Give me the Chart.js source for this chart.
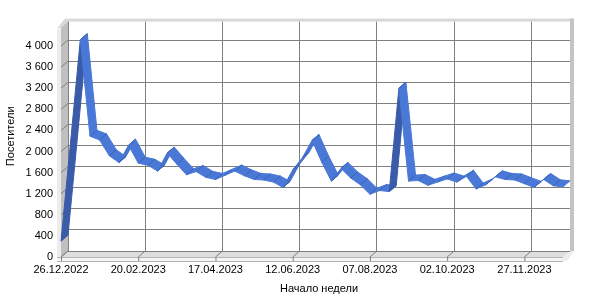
<!DOCTYPE html>
<html>
<head>
<meta charset="utf-8">
<script src="https://cdn.jsdelivr.net/npm/chart.js@4.4.1/dist/chart.umd.min.js"></script>
<style>
  html, body { margin: 0; padding: 0; background: #fff; }
</style>
</head>
<body>
<canvas id="chart" width="600" height="300"></canvas>
<script>
// Week start dates (Monday of each week)
const weeks = [
  '26.12.2022', '02.01.2023', '09.01.2023', '16.01.2023', '23.01.2023', '30.01.2023',
  '06.02.2023', '13.02.2023', '20.02.2023', '27.02.2023', '06.03.2023', '13.03.2023',
  '20.03.2023', '27.03.2023', '03.04.2023', '10.04.2023', '17.04.2023', '24.04.2023',
  '01.05.2023', '08.05.2023', '15.05.2023', '22.05.2023', '29.05.2023', '05.06.2023',
  '12.06.2023', '19.06.2023', '26.06.2023', '03.07.2023', '10.07.2023', '17.07.2023',
  '24.07.2023', '31.07.2023', '07.08.2023', '14.08.2023', '21.08.2023', '28.08.2023',
  '04.09.2023', '11.09.2023', '18.09.2023', '25.09.2023', '02.10.2023', '09.10.2023',
  '16.10.2023', '23.10.2023', '30.10.2023', '06.11.2023', '13.11.2023', '20.11.2023',
  '27.11.2023', '04.12.2023', '11.12.2023', '18.12.2023', '25.12.2023'
];

// Visitors per week
const visitors = [
  300, 2200, 4120, 2290, 2220, 1920, 1790, 2120, 1780, 1740, 1630, 1970,
  1760, 1560, 1620, 1510, 1470, 1550, 1630, 1540, 1470, 1460, 1420, 1320,
  1650, 1880, 2210, 1800, 1440, 1680, 1500, 1370, 1190, 1260, 1240, 3200,
  1440, 1450, 1360, 1420, 1480, 1420, 1530, 1290, 1370, 1520, 1470, 1460,
  1390, 1320, 1470, 1350, 1330
];

const xTicks = [0, 8, 16, 24, 32, 40, 48];
const yTicks = [0, 400, 800, 1200, 1600, 2000, 2400, 2800, 3200, 3600, 4000];
const yMax = 4350;

// depth of the 3D box: back wall is shifted right/up from the front plane
const DX = 7, DY = 6;

const fmt = v => String(v).replace(/\B(?=(\d{3})+(?!\d))/g, ' ');

function poly(ctx, pts, fill, stroke) {
  ctx.beginPath();
  pts.forEach(([x, y], i) => i ? ctx.lineTo(x, y) : ctx.moveTo(x, y));
  ctx.closePath();
  if (fill) { ctx.fillStyle = fill; ctx.fill(); }
  if (stroke) { ctx.strokeStyle = stroke; ctx.lineWidth = 1; ctx.stroke(); }
}

function mix(a, b, t) {
  const r = a.map((c, i) => Math.round(c + (b[i] - c) * t));
  return `rgb(${r[0]},${r[1]},${r[2]})`;
}

const box3d = {
  id: 'box3d',
  beforeDraw(chart) {
    const { ctx, chartArea: a, scales } = chart;
    const L = a.left, R = a.right, T = a.top, B = a.bottom;
    ctx.save();
    // back wall thickness
    ctx.fillStyle = '#d8d8d8';
    ctx.fillRect(L - 2, T - 3, R - L + 6, 3);
    ctx.fillStyle = '#c4c4c4';
    ctx.fillRect(R, T - 3, 4, B - T + 3);
    // left wall: front edge and side face
    poly(ctx, [[L - DX - 4, T + DY + 1], [L - 3, T - 3], [L, T], [L - DX, T + DY]], '#d8d8d8');
    ctx.fillStyle = '#ececec';
    ctx.fillRect(L - DX - 4, T + DY + 1, 4, B - T + 3);
    poly(ctx, [[L - DX, T + DY], [L, T], [L, B], [L - DX, B + DY]], '#c0c0c0');
    // floor: top face, front edge, right bevel
    poly(ctx, [[L - DX, B + DY], [L, B], [R, B], [R - DX, B + DY]], '#dedede');
    poly(ctx, [[R - DX, B + DY], [R, B], [R + 4, B], [R - DX + 4, B + DY + 4], [R - DX, B + DY + 4]], '#ececec');
    ctx.fillStyle = '#f4f4f4';
    ctx.fillRect(L - DX - 4, B + DY, R - L + 4, 4);
    ctx.strokeStyle = '#b4b4b4';
    ctx.lineWidth = 1;
    ctx.beginPath();
    ctx.moveTo(L - DX - 4, B + DY + 4.5); ctx.lineTo(R - DX, B + DY + 4.5);
    ctx.moveTo(L - DX - 4, B + DY + 0.5); ctx.lineTo(R - DX, B + DY + 0.5);
    ctx.stroke();
    // grid traces on left wall and floor
    ctx.strokeStyle = '#808080';
    ctx.beginPath();
    yTicks.forEach(v => {
      const y = scales.y.getPixelForValue(v);
      ctx.moveTo(L - DX, y + DY); ctx.lineTo(L, y);
    });
    xTicks.forEach(v => {
      const x = scales.x.getPixelForValue(v);
      ctx.moveTo(x - DX, B + DY); ctx.lineTo(x, B);
      ctx.moveTo(x - DX + 0.5, B + DY); ctx.lineTo(x - DX + 0.5, B + DY + 4);
    });
    ctx.stroke();
    ctx.restore();
  },
  afterDatasetsDraw(chart) {
    const { ctx } = chart;
    const pts = chart.getDatasetMeta(0).data.map(p => ({ x: p.x, y: p.y }));
    const light = [75, 121, 217], dark = [58, 91, 168];
    ctx.save();
    for (let i = 0; i < pts.length - 1; i++) {
      const b0 = pts[i], b1 = pts[i + 1];
      const f0 = { x: b0.x - DX, y: b0.y + DY }, f1 = { x: b1.x - DX, y: b1.y + DY };
      const sx = b1.x - b0.x, sy = b1.y - b0.y;
      const cross = sx * (-DY) - sy * DX;
      let col;
      if (cross > 0) {
        const slope = -sy / sx;
        col = mix(light, dark, Math.min(1, Math.max(0.25, (slope - 1) / 6)));
      } else {
        col = mix(light, dark, 0.05);
      }
      poly(ctx, [[f0.x, f0.y], [f1.x, f1.y], [b1.x, b1.y], [b0.x, b0.y]], col, col);
      if (i > 0) {
        ctx.strokeStyle = 'rgba(50,80,160,0.6)';
        ctx.lineWidth = 1;
        ctx.beginPath();
        ctx.moveTo(f0.x, f0.y); ctx.lineTo(b0.x, b0.y);
        ctx.stroke();
      }
    }
    ctx.restore();
  }
};

const font = { family: 'Liberation Sans, Arial, sans-serif', size: 11 };

new Chart(document.getElementById('chart'), {
  type: 'line',
  data: {
    datasets: [{
      label: 'Посетители',
      data: visitors.map((v, i) => ({ x: i, y: v })),
      showLine: false,
      pointRadius: 0,
      pointHoverRadius: 0
    }]
  },
  options: {
    responsive: false,
    devicePixelRatio: 1,
    animation: false,
    events: [],
    layout: { padding: { top: 13, right: 30, left: 0, bottom: 0 } },
    plugins: { legend: { display: false }, tooltip: { enabled: false } },
    scales: {
      x: {
        type: 'linear',
        min: 0,
        max: weeks.length - 1,
        afterBuildTicks: s => { s.ticks = xTicks.map(v => ({ value: v })); },
        afterFit: s => { s.height = 49; },
        grid: { color: '#808080', drawTicks: false },
        border: { display: false },
        ticks: {
          callback: v => weeks[v],
          labelOffset: -DX,
          padding: 12,
          maxRotation: 0,
          autoSkip: false,
          color: '#000',
          font
        },
        title: { display: true, text: 'Начало недели', color: '#000', font, padding: { top: 0, bottom: 4 } }
      },
      y: {
        min: 0,
        max: yMax,
        afterBuildTicks: s => { s.ticks = yTicks.map(v => ({ value: v })); },
        afterFit: s => { s.width = 68; },
        grid: { color: '#808080', drawTicks: false },
        border: { display: false },
        ticks: {
          callback: v => fmt(v),
          labelOffset: DY,
          padding: 15,
          color: '#000',
          font
        },
        title: { display: true, text: 'Посетители', color: '#000', font, padding: { top: 4, bottom: 0 } }
      }
    }
  },
  plugins: [box3d]
});
</script>
</body>
</html>
